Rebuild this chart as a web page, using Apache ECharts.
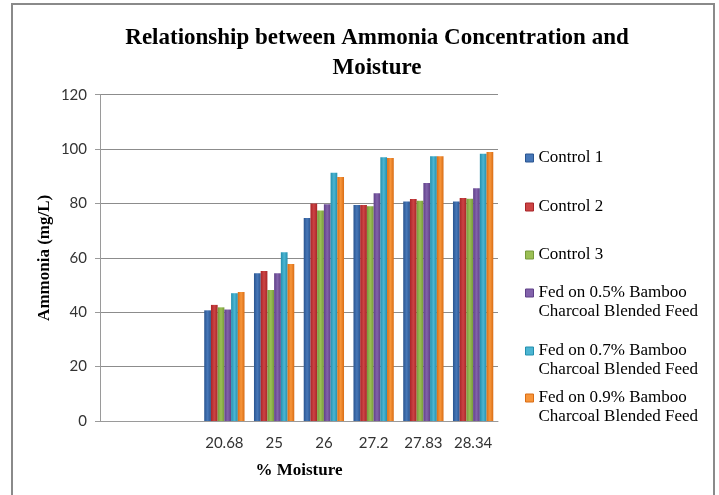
<!DOCTYPE html>
<html>
<head>
<meta charset="utf-8">
<script src="https://cdn.jsdelivr.net/npm/echarts@6/dist/echarts.min.js"></script>
<style>html,body{margin:0;padding:0;background:#fff;}#c{width:719px;height:495px;}</style>
</head>
<body>
<div id="c"></div>
<script>
var categories = ['', '', '20.68', '25', '26', '27.2', '27.83', '28.34'];
var control1 = [null, null, 40.7, 54.3, 74.7, 79.4, 80.7, 80.7];
var control2 = [null, null, 42.7, 55.2, 80.0, 79.4, 81.6, 82.0];
var control3 = [null, null, 41.8, 48.2, 77.4, 79.0, 81.0, 81.7];
var fed05 = [null, null, 41.0, 54.3, 79.7, 83.8, 87.5, 85.6];
var fed07 = [null, null, 47.0, 62.1, 91.3, 97.0, 97.4, 98.3];
var fed09 = [null, null, 47.4, 57.7, 89.7, 96.7, 97.4, 98.9];
var seriesNames = ['Control 1', 'Control 2', 'Control 3',
  'Fed on 0.5% Bamboo Charcoal Blended Feed',
  'Fed on 0.7% Bamboo Charcoal Blended Feed',
  'Fed on 0.9% Bamboo Charcoal Blended Feed'];
var yTicks = [0, 20, 40, 60, 80, 100, 120];

var palette = [
  ['#2a5590', '#4677b8'],
  ['#a82428', '#cc4444'],
  ['#76993a', '#9bbf55'],
  ['#5f4088', '#8262ab'],
  ['#238fae', '#4cb5d2'],
  ['#d96d15', '#f7953a']
];
function grad(p) {
  return new echarts.graphic.LinearGradient(0, 0, 1, 0, [
    {offset: 0, color: p[0]}, {offset: 0.5, color: p[1]}, {offset: 1, color: p[0]}
  ]);
}
var values = [control1, control2, control3, fed05, fed07, fed09];
var series = values.map(function (v, i) {
  return {
    name: seriesNames[i], type: 'bar', data: v,
    barGap: '0%', barCategoryGap: '19%',
    itemStyle: {color: grad(palette[i])}
  };
});

var LH = 18.5;
var legendCenters = [158, 207, 255, 293, 351, 398];
var legends = seriesNames.map(function (n, i) {
  var twoLine = i >= 3;
  var h = twoLine ? 3 * LH : LH;
  return {
    data: [{name: n, itemStyle: {color: palette[i][1], borderColor: palette[i][0], borderWidth: 1}}],
    left: 525, top: legendCenters[i] - h / 2, padding: 0,
    orient: 'vertical', icon: 'rect', itemWidth: 8, itemHeight: 8, itemGap: 4,
    selectedMode: false,
    formatter: function (name) {
      var p = name.indexOf(' Charcoal');
      return p >= 0 ? '\n' + name.slice(0, p) + '\n' + name.slice(p + 1) : name;
    },
    textStyle: {
      fontFamily: 'Liberation Serif', fontSize: 17, color: '#000', lineHeight: LH
    }
  };
});

var chart = echarts.init(document.getElementById('c'));
chart.setOption({
  animation: false,
  title: {
    text: 'Relationship between Ammonia Concentration and\nMoisture',
    left: 372, top: 18, textAlign: 'center',
    textStyle: {fontFamily: 'Liberation Serif', fontWeight: 'bold', fontSize: 23, color: '#000', lineHeight: 30}
  },
  graphic: [{
    type: 'rect', shape: {x: 12, y: 4, width: 702, height: 500},
    style: {fill: 'none', stroke: '#8a8a8a', lineWidth: 2}, silent: true
  }],
  legend: legends,
  grid: {left: 100, right: 221, top: 94.7, bottom: 74},
  xAxis: {
    type: 'category', data: categories,
    name: '% Moisture', nameLocation: 'middle', nameGap: 41,
    nameTextStyle: {fontFamily: 'Liberation Serif', fontWeight: 'bold', fontSize: 17, color: '#000'},
    axisLine: {lineStyle: {color: '#9a9a9a', width: 1}},
    axisTick: {show: false},
    axisLabel: {fontFamily: 'Lato', fontSize: 15, color: '#333', margin: 15, interval: 0}
  },
  yAxis: {
    type: 'value', min: 0, max: 120, interval: 20,
    name: 'Ammonia (mg/L)', nameLocation: 'middle', nameGap: 47, nameRotate: 90,
    nameMoveOverlap: false,
    nameTextStyle: {fontFamily: 'Liberation Serif', fontWeight: 'bold', fontSize: 17, color: '#000'},
    axisLine: {show: true, lineStyle: {color: '#9a9a9a'}},
    axisTick: {show: true, length: 5, lineStyle: {color: '#9a9a9a'}},
    axisLabel: {fontFamily: 'Lato', fontSize: 15, color: '#333', margin: 13,
      formatter: function (v) { return yTicks.indexOf(v) >= 0 ? String(v) : ''; }},
    splitLine: {lineStyle: {color: '#8c8c8c', width: 1}}
  },
  series: series
});
</script>
</body>
</html>
